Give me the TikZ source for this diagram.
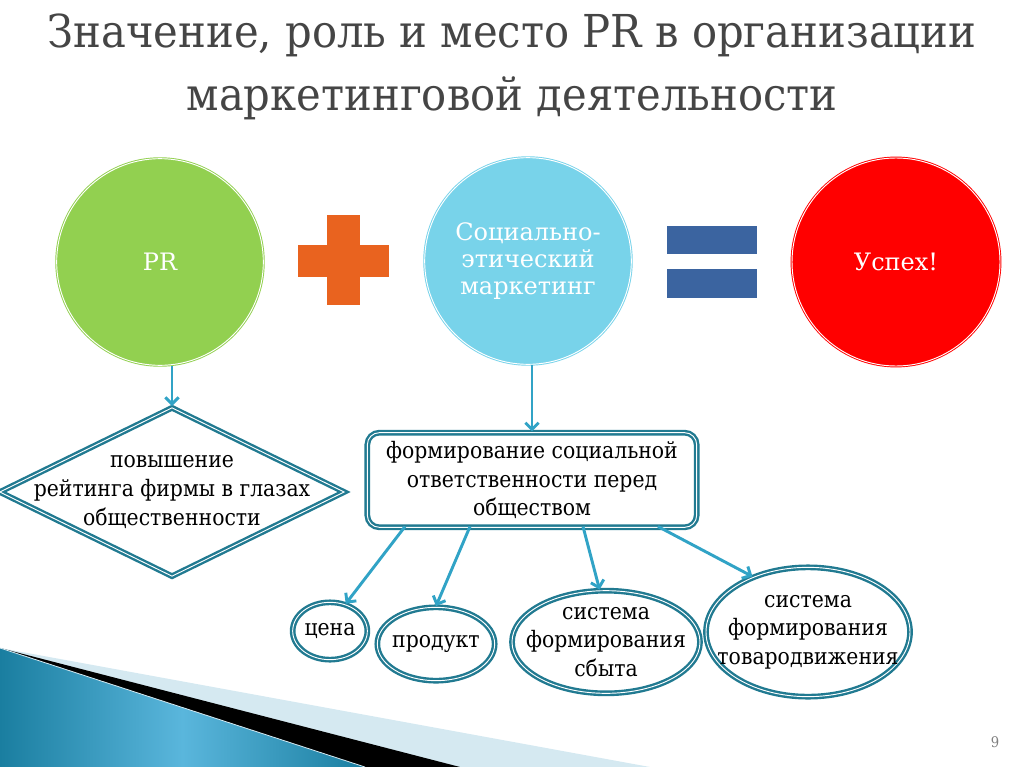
\documentclass[tikz,border=0pt]{standalone}
\usepackage{fontspec}
\setmainfont[FakeStretch=0.9]{DejaVu Serif}
\newfontfamily\circlefont{DejaVu Serif}
\newfontfamily\titlefont[FakeStretch=0.92]{DejaVu Serif}
\usetikzlibrary{arrows.meta}
\usetikzlibrary{shapes.geometric}
\usetikzlibrary{positioning}
\usetikzlibrary{calc}
\definecolor{prgreen}{HTML}{92D050}
\definecolor{socblue}{HTML}{78D3EA}
\definecolor{okred}{HTML}{FF0000}
\definecolor{plusorange}{HTML}{E9631F}
\definecolor{eqblue}{HTML}{3B64A0}
\definecolor{frame}{HTML}{217A91}
\definecolor{arrowblue}{HTML}{31A3C6}
\definecolor{titlegray}{HTML}{454545}
\definecolor{decodark}{HTML}{1A7EA0}
\definecolor{decolight}{HTML}{5AB6DC}
\definecolor{decopale}{HTML}{D5E9F1}
\tikzset{bigcircle/.style = {circle, minimum size=155pt, inner sep=0pt,
                             draw=#1, fill=#1, double=white, double distance=0.7pt,
                             line width=0.7pt, text=white, align=center,
                             font=\circlefont\fontsize{18}{20}\selectfont},
         framed/.style = {draw=frame, line width=1.8pt, double=white,
                          double distance=0.7pt, fill=white, align=center,
                          font=\fontsize{17}{21.5}\selectfont},
         oval/.style = {framed, ellipse, inner xsep=-25pt, inner ysep=-20pt},
         arr/.style = {draw=arrowblue, line width=2.2pt,
                       -{Straight Barb[length=5pt,width=10pt]}}}

\begin{document}
\begin{tikzpicture}[x=0.75pt, y=-0.75pt]
    \useasboundingbox (0, 0) rectangle (1024, 767);

    % bottom left corner
    \fill [decopale] (0, 648) -- (650, 767) -- (0, 767) -- cycle;
    \fill [black] (0, 648) -- (460, 767) -- (0, 767) -- cycle;
    \shade [left color=decodark, right color=decodark, middle color=decolight]
      (0, 648) -- (365, 767) -- (0, 767) -- cycle;
    \draw [decopale, line width=0.6pt] (0, 648) -- (365, 767);

    \node (title1) at (512, 48) [anchor=base, text=titlegray,
      font=\titlefont\fontsize{34}{46}\selectfont]
      {Значение, роль и место PR в организации};
    \node (title2) at (512, 110) [anchor=base, text=titlegray,
      font=\titlefont\fontsize{34}{46}\selectfont]
      {маркетинговой деятельности};

    \node (pr) at (160, 262) [bigcircle=prgreen] {PR};
    \node (sem) at (528, 261) [bigcircle=socblue]
      {Социально-\\этический\\маркетинг};
    \node (success) at (896, 262) [bigcircle=okred, minimum size=156pt] {Успех!};

    \fill [plusorange] (298, 245) rectangle (389, 277);
    \fill [plusorange] (327, 215) rectangle (360, 305);
    \fill [eqblue] (667, 226) rectangle (757, 254);
    \fill [eqblue] (667, 269) rectangle (757, 298);

    \node (rating) at (172, 492) [framed, diamond, aspect=2,
      minimum width=259pt, minimum height=127pt, inner xsep=-20pt, inner ysep=-15pt]
      {повышение\\рейтинга фирмы в глазах\\общественности};
    \node (resp) at (532, 480) [framed, rounded corners=9pt,
      minimum width=247pt, minimum height=71pt, inner sep=0pt]
      {формирование социальной\\ответственности перед\\обществом};

    \node (price) at (330, 631) [oval, minimum width=56pt, minimum height=43pt] {цена};
    \node (product) at (436, 644) [oval, minimum width=88pt, minimum height=55pt] {продукт};
    \node (sales) at (606, 642) [oval, minimum width=141pt, minimum height=77pt]
      {система\\формирования\\сбыта};
    \node (moving) at (808, 632) [oval, minimum width=153pt, minimum height=97pt]
      {система\\формирования\\товародвижения};

    \draw [arr] (pr.south -| rating.north) -- (rating.north);
    \draw [arr] (sem.south -| resp.north) -- (resp.north);
    \foreach \dx/\target in {-127/price.60, -62/product.north, 51/sales.97, 126/moving.135} {
      \draw [arr] ($(resp.south) + (\dx, -2)$) -- (\target);
    }

    \node (page) at (995, 742) [text=gray, font=\fontsize{11}{12}\selectfont] {9};
  \end{tikzpicture}
\end{document}
